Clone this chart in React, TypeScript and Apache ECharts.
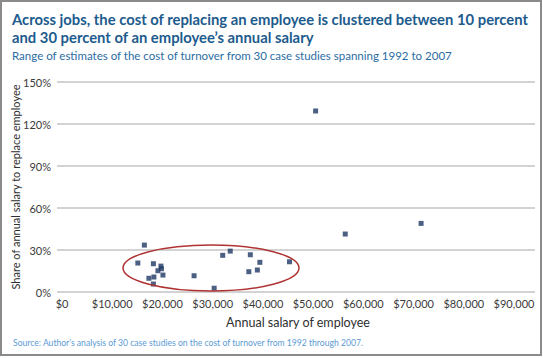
import React, { useEffect, useRef } from "react";
import * as echarts from "echarts";

const salaries = [16400, 15100, 18200, 19700, 19800, 19100, 20100, 17300, 18300, 18200, 26300, 30300, 32000, 33500, 37500, 37200, 39400, 38900, 45300, 50500, 56400, 71500];
const shares = [0.335, 0.207, 0.202, 0.185, 0.166, 0.152, 0.121, 0.098, 0.107, 0.057, 0.116, 0.027, 0.262, 0.292, 0.266, 0.145, 0.212, 0.157, 0.216, 1.293, 0.414, 0.49];

const titleLines = [
  "Across jobs, the cost of replacing an employee is clustered between 10 percent",
  "and 30 percent of an employee\u2019s annual salary",
];
const subtitle = "Range of estimates of the cost of turnover from 30 case studies spanning 1992 to 2007";
const xTitle = "Annual salary of employee";
const yTitle = "Share of annual salary to replace employee";
const source = "Source: Author\u2019s analysis of 30 case studies on the cost of turnover from 1992 through 2007.";

const FONT = "Lato";

export default function App() {
  const ref = useRef<HTMLDivElement>(null);
  useEffect(() => {
    if (!ref.current) return;
    const chart = echarts.init(ref.current, undefined, { renderer: "svg" });
    const data = salaries.map((s, i) => [s, shares[i]]);
    chart.setOption({
      animation: false,
      backgroundColor: "#ffffff",
      textStyle: { fontFamily: FONT },
      grid: [
        { left: 57, width: 478, top: 82, height: 210 },
        { left: 62, width: 452, top: 82, height: 210 },
      ],
      xAxis: [
        { gridIndex: 0, type: "value", min: 0, max: 1, show: false },
        {
          gridIndex: 1,
          type: "value",
          min: 0,
          max: 90000,
          interval: 10000,
          axisLine: { show: false },
          axisTick: { show: false },
          splitLine: { show: false },
          axisLabel: {
            margin: 6,
            color: "#3a3a3a",
            fontSize: 11,
            fontFamily: FONT,
            formatter: (v: number) => "$" + v.toLocaleString("en-US"),
          },
        },
      ],
      yAxis: [
        {
          gridIndex: 0,
          type: "value",
          min: 0,
          max: 1.5,
          interval: 0.3,
          axisLine: { show: false },
          axisTick: { show: false },
          splitLine: { lineStyle: { color: "#c4c4c4", width: 1.5 } },
          axisLabel: {
            margin: 6,
            color: "#3a3a3a",
            fontSize: 11,
            fontFamily: FONT,
            formatter: (v: number) => Math.round(v * 100) + "%",
          },
        },
        { gridIndex: 1, type: "value", min: 0, max: 1.5, show: false },
      ],
      series: [
        {
          type: "scatter",
          xAxisIndex: 1,
          yAxisIndex: 1,
          symbol: "rect",
          symbolSize: 5,
          itemStyle: { color: "#1f3864" },
          data,
        },
      ],
      graphic: [
        {
          type: "rect",
          shape: { x: 1, y: 1, width: 540, height: 354 },
          style: { fill: "none", stroke: "#8a8a8a", lineWidth: 2 },
          z: 100,
        },
        {
          type: "text",
          x: 12,
          y: 11,
          style: { text: titleLines[0], font: `bold 14.8px ${FONT}`, fill: "#1d5b8d" },
        },
        {
          type: "text",
          x: 12,
          y: 29,
          style: { text: titleLines[1], font: `bold 14.8px ${FONT}`, fill: "#1d5b8d" },
        },
        {
          type: "text",
          x: 12,
          y: 49,
          style: { text: subtitle, font: `11.5px ${FONT}`, fill: "#2b6ca3" },
        },
        {
          type: "text",
          x: 298,
          y: 316,
          style: { text: xTitle, font: `12.5px ${FONT}`, fill: "#2e2e2e", align: "center" },
        },
        {
          type: "text",
          x: 15,
          y: 187,
          rotation: Math.PI / 2,
          style: { text: yTitle, font: `11px ${FONT}`, fill: "#2e2e2e", align: "center", verticalAlign: "middle" },
        },
        {
          type: "text",
          x: 13,
          y: 338,
          style: { text: source, font: `8.6px ${FONT}`, fill: "#5b9bd5" },
        },
        {
          type: "ellipse",
          shape: { cx: 211, cy: 268, rx: 88, ry: 23 },
          style: { fill: "none", stroke: "#b03232", lineWidth: 1.5 },
          z: 50,
        },
      ],
    });
    return () => chart.dispose();
  }, []);
  return (
    <div
      ref={ref}
      style={{ position: "fixed", left: 0, top: 0, width: 543, height: 358 }}
    />
  );
}
